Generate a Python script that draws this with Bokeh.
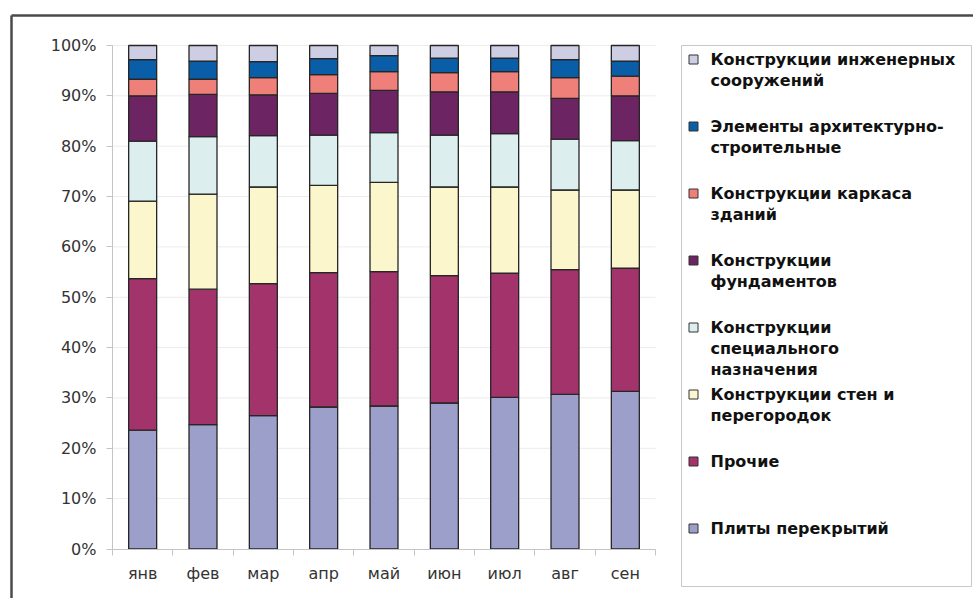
from bokeh.plotting import figure
from bokeh.models import Range1d, LinearAxis, FixedTicker, ColumnDataSource
from bokeh.core.properties import value
from bokeh.embed import file_html
from bokeh.resources import INLINE

# ---- data: monthly structure of output, % (stack order bottom -> top) ----
months = ["янв", "фев", "мар", "апр", "май", "июн", "июл", "авг", "сен"]

plity    = [23.6, 24.7, 26.5, 28.2, 28.4, 29.0, 30.1, 30.7, 31.3]
prochie  = [30.1, 26.9, 26.2, 26.7, 26.7, 25.3, 24.7, 24.8, 24.5]
steny    = [15.4, 18.9, 19.2, 17.3, 17.7, 17.6, 17.1, 15.8, 15.5]
special  = [11.9, 11.4, 10.2, 10.0,  9.9, 10.3, 10.6, 10.1,  9.8]
fund     = [ 9.0,  8.4,  8.1,  8.3,  8.4,  8.6,  8.3,  8.1,  8.9]
karkas   = [ 3.3,  3.0,  3.4,  3.7,  3.7,  3.8,  4.0,  4.1,  3.9]
arch     = [ 3.9,  3.6,  3.2,  3.2,  3.2,  2.9,  2.7,  3.6,  3.0]
inzh     = [ 2.8,  3.1,  3.2,  2.6,  2.0,  2.5,  2.5,  2.8,  3.1]

series_keys = ["plity", "prochie", "steny", "special", "fund", "karkas", "arch", "inzh"]
series_values = [plity, prochie, steny, special, fund, karkas, arch, inzh]
series_labels = [
    ["Плиты перекрытий"],
    ["Прочие"],
    ["Конструкции стен и", "перегородок"],
    ["Конструкции", "специального", "назначения"],
    ["Конструкции", "фундаментов"],
    ["Конструкции каркаса", "зданий"],
    ["Элементы архитектурно-", "строительные"],
    ["Конструкции инженерных", "сооружений"],
]
series_colors = ["#9b9fc9", "#a3336b", "#fbf6cc", "#ddeeee",
                 "#6c2463", "#ef8079", "#0a5ea8", "#cdcde3"]

y_ticks = [0, 10, 20, 30, 40, 50, 60, 70, 80, 90, 100]

# ---- layout (pixels) ----
W, H = 973, 598
PL, PR = 112, 655        # plot area left/right
PT, PB = 45, 548.5       # 100% and 0% lines
n = len(months)
ux = (PR - PL) / n
uy = (PB - PT) / 100.0
x_start = -0.5 - PL / ux
x_end = x_start + W / ux
y_end = PB / uy
y_start = (PB - H) / uy

p = figure(width=W, height=H,
           x_range=Range1d(x_start, x_end), y_range=Range1d(y_start, y_end),
           x_axis_type=None, y_axis_type=None,
           toolbar_location=None, output_backend="svg",
           min_border=0, min_border_left=0, min_border_right=0,
           min_border_top=0, min_border_bottom=0)
p.outline_line_color = None
p.background_fill_color = "white"
p.border_fill_color = "white"
p.extra_x_ranges = {"px": Range1d(0, W)}
p.extra_y_ranges = {"px": Range1d(H, 0)}

FONT = "DejaVu Sans"

# horizontal gridlines, limited to the plot area
grid_y = [t for t in y_ticks if t > 0]
p.segment(x0=[-0.5] * len(grid_y), x1=[n - 0.5] * len(grid_y),
          y0=grid_y, y1=grid_y, line_color="#ececec", line_width=1)

# stacked bars
data = {"x": list(range(n))}
for k, v in zip(series_keys, series_values):
    data[k] = v
source = ColumnDataSource(data)
p.vbar_stack(series_keys, x="x", width=0.464, source=source,
             fill_color=series_colors, line_color="#262626", line_width=1.3)

# y axis
y_ticker = FixedTicker(ticks=y_ticks)
yax = LinearAxis(ticker=y_ticker, fixed_location=-0.5, bounds=(0, 100))
yax.major_label_overrides = {t: f"{t}%" for t in y_ticks}
yax.axis_line_color = "#c4c4c4"
yax.major_tick_line_color = "#c4c4c4"
yax.major_tick_out = 6
yax.major_tick_in = 0
yax.minor_tick_line_color = None
yax.major_label_standoff = 10
yax.major_label_text_font = FONT
yax.major_label_text_font_size = "16px"
yax.major_label_text_color = "#333333"
p.add_layout(yax, "left")

# x axis: boundary ticks
xb = LinearAxis(ticker=FixedTicker(ticks=[i - 0.5 for i in range(n + 1)]),
                fixed_location=0, bounds=(-0.5, n - 0.5))
xb.axis_line_color = "#c4c4c4"
xb.major_tick_line_color = "#c4c4c4"
xb.major_tick_out = 6
xb.major_tick_in = 0
xb.minor_tick_line_color = None
xb.major_label_text_alpha = 0
p.add_layout(xb, "below")

# x axis: month labels
xl = LinearAxis(ticker=FixedTicker(ticks=list(range(n))),
                fixed_location=0, bounds=(-0.5, n - 0.5))
xl.major_label_overrides = {i: m for i, m in enumerate(months)}
xl.axis_line_color = None
xl.major_tick_line_color = None
xl.major_tick_out = 0
xl.minor_tick_line_color = None
xl.major_label_standoff = 15
xl.major_label_text_font = FONT
xl.major_label_text_font_size = "16px"
xl.major_label_text_color = "#333333"
p.add_layout(xl, "below")

# outer frame
p.segment(x0=[11, 11], y0=[15, 15], x1=[W, 11], y1=[15, H],
          line_color="#4a4a4a", line_width=2.5,
          x_range_name="px", y_range_name="px")

# legend box
p.quad(left=[681], right=[971], top=[45], bottom=[586],
       fill_color="white", line_color="#c8c8c8", line_width=1,
       x_range_name="px", y_range_name="px")

LEG_TOP, LEG_STEP, LINE_H = 59, 67, 21
sw_x, sw_y, sw_c = [], [], []
tx, ty, tt = [], [], []
for j, idx in enumerate(reversed(range(len(series_keys)))):
    y0 = LEG_TOP + j * LEG_STEP
    sw_x.append(693)
    sw_y.append(y0)
    sw_c.append(series_colors[idx])
    for li, line in enumerate(series_labels[idx]):
        tx.append(710)
        ty.append(y0 + li * LINE_H)
        tt.append(line)

p.rect(x=sw_x, y=sw_y, width=9, height=9, fill_color=sw_c,
       line_color="#333333", line_width=1,
       x_range_name="px", y_range_name="px")
p.text(x=tx, y=ty, text=tt, text_font=value(FONT), text_font_style="bold",
       text_font_size="16px", text_color="#111111", text_baseline="middle",
       x_range_name="px", y_range_name="px")

open("out.html", "w").write(file_html(p, INLINE))
